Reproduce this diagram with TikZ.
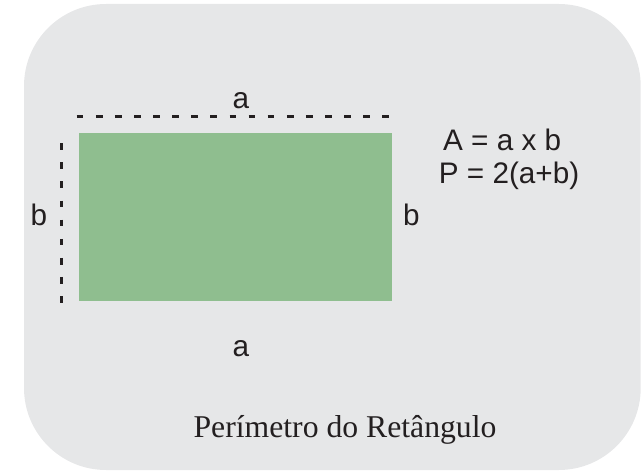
\documentclass[tikz,border=0pt]{standalone}
\usepackage{fontspec}
\setmainfont{Liberation Serif}
\newfontfamily\arialf{Liberation Sans}
\definecolor{bggray}{HTML}{E6E7E8}
\definecolor{rectgreen}{HTML}{8FBE8F}
\definecolor{inkdark}{HTML}{231F20}
\begin{document}
\begin{tikzpicture}[x=1pt,y=-1pt,
  lbl/.style={inner sep=0pt,anchor=base,text=inkdark,font=\arialf\fontsize{29.7}{34}\selectfont},
  formula/.style={lbl,anchor=base west},
  caption/.style={inner sep=0pt,anchor=base,text=inkdark,font=\fontsize{31.7}{36}\selectfont},
  dimline/.style={draw=inkdark,line width=2.7pt,line cap=butt,dash pattern=on 6.7pt off 12.4pt}]
\useasboundingbox (0,0) rectangle (643,473);
\fill[bggray,rounded corners=82pt] (24,4) rectangle (640.7,470);
\node[fill=rectgreen,draw=none,inner sep=0pt,minimum width=313pt,minimum height=168pt,anchor=north west] (rect) at (79,133) {};
\coordinate (t1) at (76.7,116.3);
\coordinate (t2) at (392,116.3);
\coordinate (l1) at (61.3,143.3);
\coordinate (l2) at (61.3,304);
\draw[dimline] (t1) -- (t2);
\draw[dimline] (l1) -- (l2);
\node[lbl] (atop) at (241,109) {a};
\node[lbl] (abot) at (241,356) {a};
\node[lbl] (bleft) at (39,226) {b};
\node[lbl] (bright) at (411.5,226) {b};
\node[formula] (area) at (443,150.7) {A = a x b};
\node[formula] (perim) at (438.7,184) {P = 2(a+b)};
\node[caption] (cap) at (345,437) {Perímetro do Retângulo};
\end{tikzpicture}
\end{document}
